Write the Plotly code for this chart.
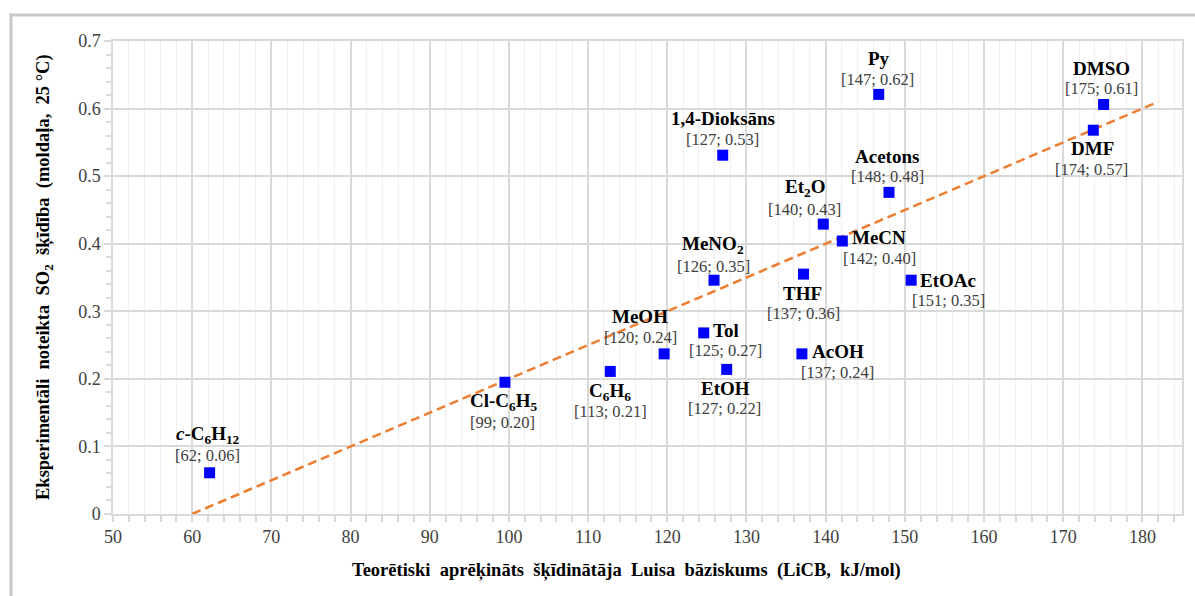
import plotly.graph_objects as go

# ---- data ----
solvents = ["<i>c</i>-C<sub>6</sub>H<sub>12</sub>", "Cl-C<sub>6</sub>H<sub>5</sub>", "C<sub>6</sub>H<sub>6</sub>",
            "MeOH", "Tol", "EtOH", "AcOH", "THF", "MeNO<sub>2</sub>", "1,4-Dioksāns",
            "Et<sub>2</sub>O", "MeCN", "EtOAc", "Acetons", "Py", "DMSO", "DMF"]
licb = [62.2, 99.5, 112.8, 119.6, 124.6, 127.5, 137.0, 137.2, 125.9, 127.0,
        139.7, 142.1, 150.8, 148.0, 146.7, 175.1, 173.8]
so2 = [0.061, 0.195, 0.211, 0.237, 0.268, 0.214, 0.237, 0.355, 0.346, 0.531,
       0.429, 0.404, 0.346, 0.476, 0.621, 0.606, 0.568]
value_labels = ["[62; 0.06]", "[99; 0.20]", "[113; 0.21]", "[120; 0.24]", "[125; 0.27]",
                "[127; 0.22]", "[137; 0.24]", "[137; 0.36]", "[126; 0.35]", "[127; 0.53]",
                "[140; 0.43]", "[142; 0.40]", "[151; 0.35]", "[148; 0.48]", "[147; 0.62]",
                "[175; 0.61]", "[174; 0.57]"]
trend_x = [60, 182]
trend_y = [0.0, 0.61]
x_title_words = ["Teorētiski", "aprēķināts", "šķīdinātāja", "Luisa", "bāziskums", "(LiCB,", "kJ/mol)"]
y_title_words = ["Eksperimentāli", "noteikta", "SO<sub>2</sub>", "šķīdība", "(moldaļa,", "25 °C)"]

# ---- label placement (screen px offsets: name dx, dy, value dx, dy; dy positive = down) ----
label_offsets = [
    (-2, -38, -2, -17),   # c-C6H12
    (-1, 20, -2, 40),     # Cl-C6H5
    (0, 21, 0, 40),       # C6H6
    (-24, -37, -24, -16), # MeOH
    (22, -2, 22, 18),     # Tol
    (-1, 19, -2, 39),     # EtOH
    (36, -2, 36, 19),     # AcOH
    (-1, 19, 0, 39),      # THF
    (-1, -35, -1, -14),   # MeNO2
    (0, -37, 0, -16),     # 1,4-Dioksans
    (-18, -36, -19, -15), # Et2O
    (37, -4, 37, 17),     # MeCN
    (37, 0, 37, 20),      # EtOAc
    (-2, -36, -2, -16),   # Acetons
    (0, -36, -1, -15),    # Py
    (-2, -36, -2, -16),   # DMSO
    (-1, 18, -2, 39),     # DMF
]

W, H = 1195, 596
ML, MR, MT, MB = 113, 13, 41, 82
FONT = "Liberation Serif, Times New Roman, serif"
GAP = "\u00a0 "

fig = go.Figure()
fig.add_trace(go.Scatter(x=trend_x, y=trend_y, mode="lines",
                         line=dict(color="#ed7d31", width=2.5, dash="9px,5px"),
                         hoverinfo="skip", showlegend=False))
fig.add_trace(go.Scatter(x=licb, y=so2, mode="markers",
                         marker=dict(symbol="square", size=11, color="#0000ff"),
                         showlegend=False))

pw = W - ML - MR
ph = H - MT - MB
def px_x(p):
    return (p - ML) / pw
def px_y(p):
    return (H - MB - p) / ph

annotations = []
for name, xv, yv, lab, off in zip(solvents, licb, so2, value_labels, label_offsets):
    ndx, ndy, vdx, vdy = off
    annotations.append(dict(x=xv, y=yv, xref="x", yref="y", text="<b>" + name + "</b>",
                            showarrow=False, xshift=ndx, yshift=-ndy,
                            xanchor="center", yanchor="middle",
                            font=dict(family=FONT, size=19, color="#000000")))
    annotations.append(dict(x=xv, y=yv, xref="x", yref="y", text=lab,
                            showarrow=False, xshift=vdx, yshift=-vdy,
                            xanchor="center", yanchor="middle",
                            font=dict(family=FONT, size=16.5, color="#404040")))

# axis titles as paper annotations
annotations.append(dict(x=px_x(626.5), y=px_y(570), xref="paper", yref="paper",
                        text="<b>" + GAP.join(x_title_words) + "</b>", showarrow=False,
                        xanchor="center", yanchor="middle",
                        font=dict(family=FONT, size=18.5, color="#000000")))
annotations.append(dict(x=px_x(44), y=px_y(277), xref="paper", yref="paper",
                        text="<b>" + GAP.join(y_title_words) + "</b>", showarrow=False,
                        textangle=-90, xanchor="center", yanchor="middle",
                        font=dict(family=FONT, size=18.5, color="#000000")))

shapes = [
    dict(type="line", xref="paper", yref="paper", x0=px_x(9.5), x1=px_x(W + 5),
         y0=px_y(15), y1=px_y(15), line=dict(color="#c8c8c8", width=3)),
    dict(type="line", xref="paper", yref="paper", x0=px_x(11), x1=px_x(11),
         y0=px_y(13.5), y1=px_y(H + 5), line=dict(color="#c8c8c8", width=3)),
]

fig.update_layout(
    width=W, height=H,
    margin=dict(l=ML, r=MR, t=MT, b=MB),
    paper_bgcolor="white", plot_bgcolor="white",
    font=dict(family=FONT, color="#404040"),
    annotations=annotations, shapes=shapes,
    xaxis=dict(range=[50, 185], dtick=10, tick0=50, showgrid=True, gridcolor="#d9d9d9", gridwidth=1.5,
               zeroline=False, showline=True, linecolor="#d9d9d9", linewidth=1.5, mirror=True,
               ticks="outside", ticklen=6, tickcolor="#d9d9d9", tickwidth=1.5,
               tickfont=dict(family=FONT, size=18, color="#404040"),
               minor=dict(dtick=2, showgrid=True, gridcolor="#efefef", gridwidth=1,
                          ticks="outside", ticklen=6, tickcolor="#d9d9d9")),
    yaxis=dict(range=[0, 0.7], dtick=0.1, showgrid=True, gridcolor="#d9d9d9", gridwidth=1.5,
               zeroline=False, showline=True, linecolor="#d9d9d9", linewidth=1.5, mirror=True,
               ticks="outside", ticklen=7, tickcolor="#d9d9d9", tickwidth=1.5,
               tickfont=dict(family=FONT, size=18, color="#404040"),
               minor=dict(dtick=0.02, showgrid=False, ticks="outside", ticklen=5, tickcolor="#d9d9d9")),
)

fig.write_html("out.html", config={"displayModeBar": False},
               post_script="document.body.style.margin='0px';")
